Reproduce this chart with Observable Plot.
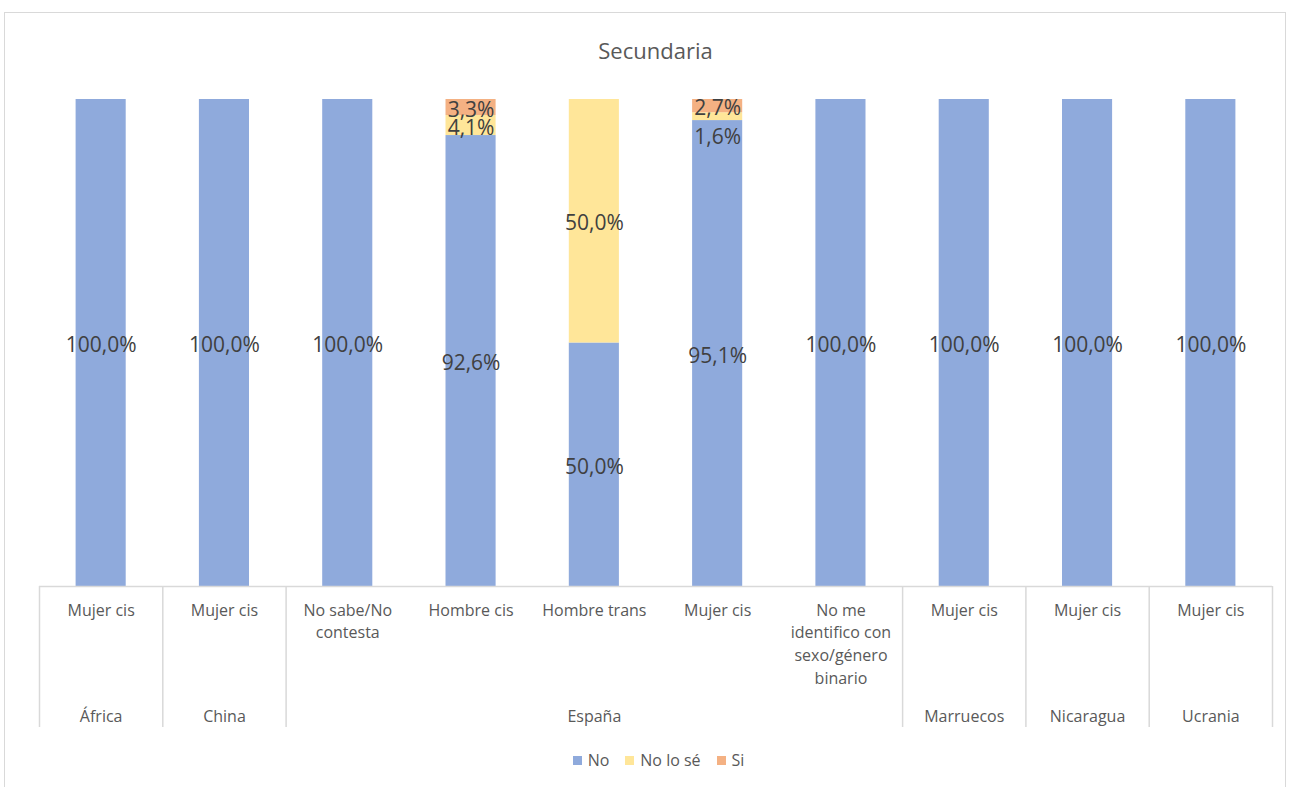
<!DOCTYPE html>
<html>
<head>
<meta charset="utf-8">
<script src="https://cdn.jsdelivr.net/npm/d3@7"></script>
<script src="https://cdn.jsdelivr.net/npm/@observablehq/plot@0.6"></script>
<style>
  html, body { margin: 0; padding: 0; background: #fff; }
  #wrap { position: relative; width: 1291px; height: 787px; overflow: hidden; font-family: "Open Sans", sans-serif; }
  #frame { position: absolute; left: 4px; top: 12px; width: 1282px; height: 790px; border: 1px solid #d9d9d9; box-sizing: border-box; }
  #title { position: absolute; left: 39px; width: 1233px; top: 35px; text-align: center; font-size: 22px; line-height: 30px; color: #595959; }
  #chart { position: absolute; left: 0; top: 0; }
  #legend { position: absolute; left: 42px; width: 1233px; top: 748px; display: flex; justify-content: center; align-items: center; font-size: 16px; color: #595959; line-height: 24px; }
  .item { display: flex; align-items: center; margin: 0 8px; }
  .sw { width: 9px; height: 9px; margin-right: 6px; }
</style>
</head>
<body>
<div id="wrap">
  <div id="frame"></div>
  <div id="title">Secundaria</div>
  <div id="chart"></div>
  <div id="legend"></div>
</div>
<script>
const countries = ["África","China","España","España","España","España","España","Marruecos","Nicaragua","Ucrania"];
const subcategories = ["Mujer cis","Mujer cis","No sabe/No\ncontesta","Hombre cis","Hombre trans","Mujer cis","No me\nidentifico con\nsexo/género\nbinario","Mujer cis","Mujer cis","Mujer cis"];
const seriesNames = ["No","No lo sé","Si"];
const seriesColors = ["#8FAADC","#FFE699","#F4B183"];
const valuesNo     = [100,100,100,92.6,50,95.1,100,100,100,100];
const valuesNoLoSe = [0,0,0,4.1,50,1.6,0,0,0,0];
const valuesSi     = [0,0,0,3.3,0,2.7,0,0,0,0];
// labels Excel moved away from its segment to avoid overlap
const nudged = [{series: "No lo sé", index: 5}];

const seriesValues = [valuesNo, valuesNoLoSe, valuesSi];
const rows = [];
countries.forEach((c, i) => {
  seriesNames.forEach((s, k) => {
    rows.push({i, country: c, sub: subcategories[i], series: s, value: seriesValues[k][i]});
  });
});
const isNudged = d => nudged.some(n => n.series === d.series && n.index === d.i);
const fmt = v => v.toFixed(1).replace(".", ",") + "%";

const cats = subcategories.map((s, i) => ({i, sub: s}));
// groups: consecutive runs of the same country
const groups = [];
countries.forEach((c, i) => {
  const last = groups[groups.length - 1];
  if (last && last.country === c) last.end = i + 1;
  else groups.push({country: c, start: i, end: i + 1});
});
const bounds = [0, ...groups.map(g => g.end)];

const W = 1291, H = 740;
const chart = Plot.plot({
  width: W,
  height: H,
  marginTop: 99,
  marginBottom: 154,
  marginLeft: 39,
  marginRight: 19,
  style: {fontFamily: "Open Sans, sans-serif", background: "transparent"},
  x: {type: "linear", domain: [0, countries.length], axis: null},
  y: {domain: [0, 1], axis: null},
  color: {domain: seriesNames, range: seriesColors},
  marks: [
    Plot.rectY(rows, {x: "i", interval: 1, y: "value", fill: "series", offset: "normalize", insetLeft: 36.6, insetRight: 36.6}),
    Plot.text(rows, Plot.stackY({x: d => d.i + 0.5, y: "value", offset: "normalize",
      text: d => d.value > 0 && !isNudged(d) ? fmt(d.value) : null,
      fill: "#404040", fontSize: 21, dy: 2.5})),
    Plot.text(rows, Plot.stackY({x: d => d.i + 0.5, y: "value", offset: "normalize",
      text: d => d.value > 0 && isNudged(d) ? fmt(d.value) : null,
      fill: "#404040", fontSize: 21, dy: 21})),
    Plot.ruleY([0], {stroke: "#d9d9d9", strokeWidth: 1.5}),
    Plot.axisX(bounds, {anchor: "bottom", tickSize: 141, tickFormat: () => "", stroke: "#d9d9d9", strokeWidth: 1.5, label: null}),
    Plot.text(cats, {x: d => d.i + 0.5, text: "sub", frameAnchor: "bottom", lineAnchor: "top", dy: 13, lineHeight: 1.42, fontSize: 16, fill: "#595959"}),
    Plot.text(groups, {x: d => (d.start + d.end) / 2, text: "country", frameAnchor: "bottom", lineAnchor: "top", dy: 124, fontSize: 16, fill: "#595959"})
  ]
});
document.getElementById("chart").appendChild(chart);

const legend = document.getElementById("legend");
seriesNames.forEach((s, k) => {
  const item = document.createElement("div");
  item.className = "item";
  const sw = document.createElement("div");
  sw.className = "sw";
  sw.style.background = seriesColors[k];
  const t = document.createElement("span");
  t.textContent = s;
  item.appendChild(sw);
  item.appendChild(t);
  legend.appendChild(item);
});
</script>
</body>
</html>
